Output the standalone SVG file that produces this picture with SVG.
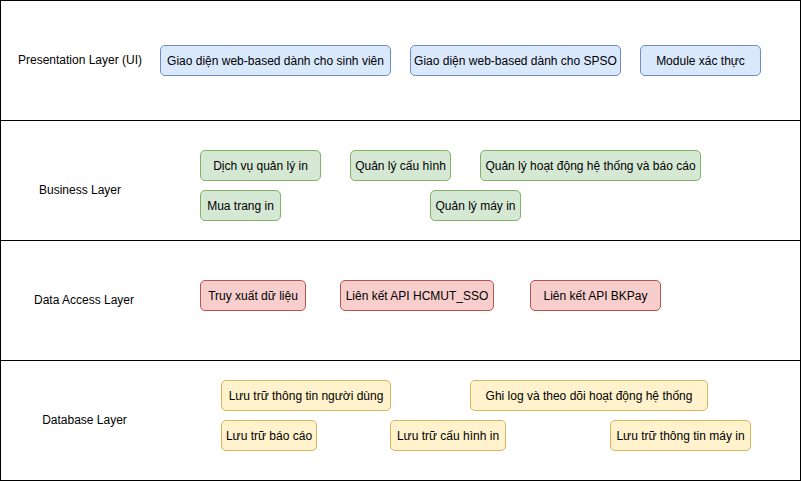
<svg xmlns="http://www.w3.org/2000/svg" width="801" height="481" viewBox="0 0 801 481">
<style>
.layer{fill:#ffffff;stroke:#000000;stroke-width:1}
.n rect{stroke-width:1}
.blue rect{fill:#dae8fc;stroke:#6c8ebf}
.green rect{fill:#d5e8d4;stroke:#82b366}
.red rect{fill:#f8cecc;stroke:#b85450}
.yellow rect{fill:#fff2cc;stroke:#d6b656}
text{font-family:"Liberation Sans",Arial,Helvetica,sans-serif;font-size:12px;fill:#000000;text-anchor:middle;dominant-baseline:central}
</style>
<rect width="801" height="481" fill="#ffffff"/>
<g id="layer-presentation">
<rect class="layer" x="0.5" y="0.5" width="800" height="120"/>
<text x="80" y="60">Presentation Layer (UI)</text>
</g>
<g id="layer-business">
<rect class="layer" x="0.5" y="120.5" width="800" height="120"/>
<text x="80" y="190">Business Layer</text>
</g>
<g id="layer-data-access">
<rect class="layer" x="0.5" y="240.5" width="800" height="120"/>
<text x="84" y="300">Data Access Layer</text>
</g>
<g id="layer-database">
<rect class="layer" x="0.5" y="360.5" width="800" height="120"/>
<text x="84.5" y="420">Database Layer</text>
</g>
<g id="connectors"></g>
<g id="ui-student" class="n blue"><rect x="160.5" y="45.5" width="230" height="30" rx="4.5"/><text x="275.5" y="60.5">Giao diện web-based dành cho sinh viên</text></g>
<g id="ui-spso" class="n blue"><rect x="410.5" y="45.5" width="210" height="30" rx="4.5"/><text x="515.5" y="60.5">Giao diện web-based dành cho SPSO</text></g>
<g id="ui-auth" class="n blue"><rect x="640.5" y="45.5" width="120" height="30" rx="4.5"/><text x="700.5" y="60.5">Module xác thực</text></g>
<g id="bl-print" class="n green"><rect x="200.5" y="150.5" width="120" height="30" rx="4.5"/><text x="260.5" y="165.5">Dịch vụ quản lý in</text></g>
<g id="bl-config" class="n green"><rect x="350.5" y="150.5" width="100" height="30" rx="4.5"/><text x="400.5" y="165.5">Quản lý cấu hình</text></g>
<g id="bl-ops" class="n green"><rect x="480.5" y="150.5" width="220" height="30" rx="4.5"/><text x="590.5" y="165.5">Quản lý hoạt động hệ thống và báo cáo</text></g>
<g id="bl-buy" class="n green"><rect x="200.5" y="190.5" width="80" height="30" rx="4.5"/><text x="240.5" y="205.5">Mua trang in</text></g>
<g id="bl-printer" class="n green"><rect x="430.5" y="190.5" width="90" height="30" rx="4.5"/><text x="475.5" y="205.5">Quản lý máy in</text></g>
<g id="da-retrieve" class="n red"><rect x="200.5" y="280.5" width="105" height="30" rx="4.5"/><text x="253" y="295.5">Truy xuất dữ liệu</text></g>
<g id="da-sso" class="n red"><rect x="340.5" y="280.5" width="153" height="30" rx="4.5"/><text x="417" y="295.5">Liên kết API HCMUT_SSO</text></g>
<g id="da-bkpay" class="n red"><rect x="530.5" y="280.5" width="130" height="30" rx="4.5"/><text x="595.5" y="295.5">Liên kết API BKPay</text></g>
<g id="db-users" class="n yellow"><rect x="221.5" y="380.5" width="169" height="30" rx="4.5"/><text x="306" y="395.5">Lưu trữ thông tin người dùng</text></g>
<g id="db-log" class="n yellow"><rect x="470.5" y="380.5" width="237" height="30" rx="4.5"/><text x="589" y="395.5">Ghi log và theo dõi hoạt động hệ thống</text></g>
<g id="db-reports" class="n yellow"><rect x="221.5" y="420.5" width="95" height="30" rx="4.5"/><text x="269" y="435.5">Lưu trữ báo cáo</text></g>
<g id="db-config" class="n yellow"><rect x="390.5" y="420.5" width="115" height="30" rx="4.5"/><text x="448" y="435.5">Lưu trữ cấu hình in</text></g>
<g id="db-printers" class="n yellow"><rect x="610.5" y="420.5" width="140" height="30" rx="4.5"/><text x="680.5" y="435.5">Lưu trữ thông tin máy in</text></g>
</svg>
